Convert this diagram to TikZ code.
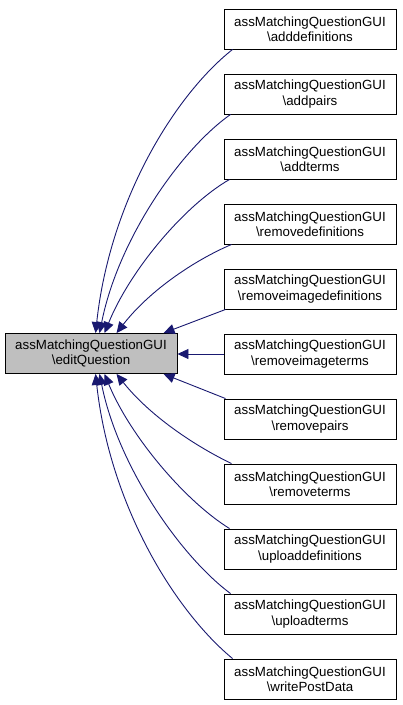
\documentclass[tikz,border=0pt]{standalone}
\usepackage{fontspec}
\setmainfont{Liberation Sans}
\usetikzlibrary{arrows.meta,calc}
\definecolor{edgeblue}{HTML}{191970}
\definecolor{nodegray}{HTML}{BFBFBF}
\begin{document}
\begin{tikzpicture}[x=1pt,y=-1pt,
  box/.style={draw=black,line width=0.9pt,minimum width=172pt,minimum height=40pt,inner sep=0pt,align=center,
    font=\fontsize{13.3}{15.5}\selectfont},
  mainbox/.style={box,fill=nodegray},
  edge/.style={draw=edgeblue,line width=0.9pt,-{Triangle[length=11pt,width=10pt]}}]
\useasboundingbox (0,0) rectangle (403,705);
\node[mainbox] (L) at (91,353.5) {assMatchingQuestionGUI\\\textbackslash editQuestion};
\node[box] (r1) at (310,29) {assMatchingQuestionGUI\\\textbackslash adddefinitions};
\node[box] (r2) at (310,94) {assMatchingQuestionGUI\\\textbackslash addpairs};
\node[box] (r3) at (310,159) {assMatchingQuestionGUI\\\textbackslash addterms};
\node[box] (r4) at (310,224) {assMatchingQuestionGUI\\\textbackslash removedefinitions};
\node[box] (r5) at (310,289) {assMatchingQuestionGUI\\\textbackslash removeimagedefinitions};
\node[box] (r6) at (310,354) {assMatchingQuestionGUI\\\textbackslash removeimageterms};
\node[box] (r7) at (310,419) {assMatchingQuestionGUI\\\textbackslash removepairs};
\node[box] (r8) at (310,484) {assMatchingQuestionGUI\\\textbackslash removeterms};
\node[box] (r9) at (310,549) {assMatchingQuestionGUI\\\textbackslash uploaddefinitions};
\node[box] (r10) at (310,614) {assMatchingQuestionGUI\\\textbackslash uploadterms};
\node[box] (r11) at (310,679) {assMatchingQuestionGUI\\\textbackslash writePostData};
% top edges
\draw[edge] ($(r1.south west)+(9,0)$) .. controls (175,95) and (110,200) .. ($(L.north west)+(91,0)$);
\draw[edge] ($(r2.south west)+(7,0)$) .. controls (180,150) and (118,240) .. ($(L.north west)+(95,0)$);
\draw[edge] ($(r3.south west)+(6,0)$) .. controls (185,205) and (130,270) .. ($(L.north west)+(100,0)$);
\draw[edge] ($(r4.south west)+(8,0)$) .. controls (195,260) and (150,290) .. ($(L.north west)+(112,0)$);
\draw[edge] ($(r5.south west)+(2,0)$) -- ($(L.north west)+(159,0)$);
\draw[edge] (r6.west) -- (r6.west -| L.east);
% bottom edges
\draw[edge] ($(r7.north west)+(2,0)$) -- ($(L.south west)+(159,0)$);
\draw[edge] ($(r8.north west)+(8,0)$) .. controls (195,446) and (150,416) .. ($(L.south west)+(112,0)$);
\draw[edge] ($(r9.north west)+(6,0)$) .. controls (185,501) and (130,436) .. ($(L.south west)+(100,0)$);
\draw[edge] ($(r10.north west)+(7,0)$) .. controls (180,556) and (118,466) .. ($(L.south west)+(95,0)$);
\draw[edge] ($(r11.north west)+(9,0)$) .. controls (175,611) and (110,506) .. ($(L.south west)+(91,0)$);
\end{tikzpicture}
\end{document}
